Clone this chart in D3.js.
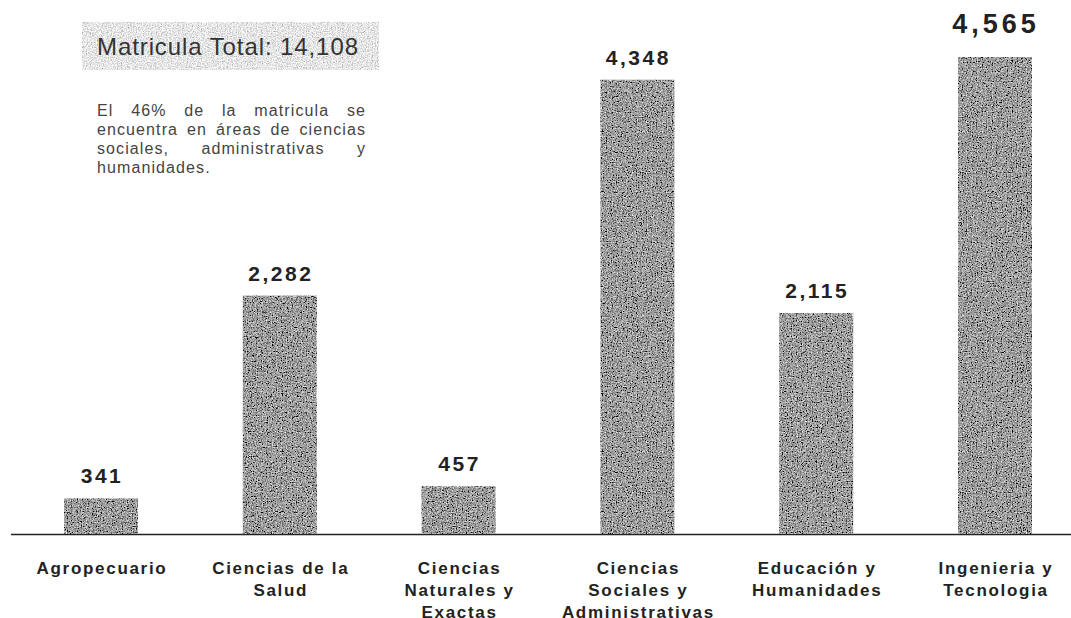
<!DOCTYPE html>
<html>
<head>
<meta charset="utf-8">
<script src="https://cdn.jsdelivr.net/npm/d3@7/dist/d3.min.js"></script>
<style>
  html, body { margin: 0; padding: 0; background: #fff; }
  svg { display: block; }
</style>
</head>
<body>
<svg id="chart" width="1071" height="618"></svg>
<script>
const categories = [
  ["Agropecuario"],
  ["Ciencias de la", "Salud"],
  ["Ciencias", "Naturales y", "Exactas"],
  ["Ciencias", "Sociales y", "Administrativas"],
  ["Educación y", "Humanidades"],
  ["Ingenieria y", "Tecnologia"]
];
const categoryKeys = ["Agropecuario", "Ciencias de la Salud", "Ciencias Naturales y Exactas",
  "Ciencias Sociales y Administrativas", "Educación y Humanidades", "Ingenieria y Tecnologia"];
const values = [341, 2282, 457, 4348, 2115, 4565];
const valueLabels = ["341", "2,282", "457", "4,348", "2,115", "4,565"];
const totalLabel = "Matricula Total: 14,108";
const noteLines = [
  ["El", "46%", "de", "la", "matricula", "se"],
  ["encuentra", "en", "áreas", "de", "ciencias"],
  ["sociales,", "administrativas", "y"],
  ["humanidades."]
];

const svg = d3.select("#chart");
const W = 1071, H = 618;
const baseY = 534, topY = 57;

const defs = svg.append("defs");
function noiseFilter(id, slope, intercept) {
  const f = defs.append("filter").attr("id", id)
    .attr("x", 0).attr("y", 0).attr("width", 1).attr("height", 1);
  f.append("feTurbulence").attr("type", "fractalNoise")
    .attr("baseFrequency", 0.8).attr("numOctaves", 2).attr("seed", 3).attr("result", "n");
  f.append("feColorMatrix").attr("in", "n").attr("type", "matrix")
    .attr("values", "0.33 0.33 0.33 0 0  0.33 0.33 0.33 0 0  0.33 0.33 0.33 0 0  0 0 0 0 1")
    .attr("result", "g");
  const ct = f.append("feComponentTransfer").attr("in", "g").attr("result", "c");
  ["feFuncR", "feFuncG", "feFuncB"].forEach(t =>
    ct.append(t).attr("type", "linear").attr("slope", slope).attr("intercept", intercept));
  f.append("feComposite").attr("in", "c").attr("in2", "SourceGraphic").attr("operator", "in");
}
noiseFilter("barNoise", 2.6, -0.95);
noiseFilter("boxNoise", 2.0, -0.2);

const x = d3.scaleBand()
  .domain(categoryKeys)
  .range([11.6, 1084.4])
  .paddingInner(0.586)
  .paddingOuter(0.293);

const y = d3.scaleLinear().domain([0, 4565]).range([baseY, topY]);

// baseline
svg.append("line")
  .attr("x1", 11).attr("x2", W).attr("y1", baseY + 0.5).attr("y2", baseY + 0.5)
  .attr("stroke", "#222").attr("stroke-width", 1.3);

// bars
svg.append("g").selectAll("rect").data(values).join("rect")
  .attr("x", (d, i) => x(categoryKeys[i]))
  .attr("width", x.bandwidth())
  .attr("y", d => y(d))
  .attr("height", d => baseY - y(d))
  .attr("fill", "#666")
  .attr("filter", "url(#barNoise)");

// value labels
svg.append("g").selectAll("text").data(values).join("text")
  .attr("x", (d, i) => x(categoryKeys[i]) + x.bandwidth() / 2 + 1)
  .attr("y", (d, i) => y(d) - (i === 5 ? 24 : 15))
  .attr("text-anchor", "middle")
  .attr("font-family", "Liberation Sans, Arial, sans-serif")
  .attr("font-weight", "bold")
  .attr("font-size", (d, i) => i === 5 ? 27 : 21)
  .attr("letter-spacing", (d, i) => i === 5 ? 4 : 2.5)
  .attr("fill", "#222")
  .text((d, i) => valueLabels[i]);

// category labels
const cat = svg.append("g").selectAll("text").data(categories).join("text")
  .attr("text-anchor", "middle")
  .attr("font-family", "Liberation Sans, Arial, sans-serif")
  .attr("font-weight", "bold")
  .attr("font-size", 17)
  .attr("letter-spacing", 1.7)
  .attr("fill", "#222");
cat.each(function(lines, i) {
  const cx = x(categoryKeys[i]) + x.bandwidth() / 2 + 1;
  d3.select(this).selectAll("tspan").data(lines).join("tspan")
    .attr("x", cx)
    .attr("y", (d, j) => 574 + j * 22)
    .text(d => d);
});

// total box
svg.append("rect")
  .attr("x", 82).attr("y", 22).attr("width", 297).attr("height", 48)
  .attr("fill", "#bbb").attr("filter", "url(#boxNoise)");
svg.append("text")
  .attr("x", 97).attr("y", 55)
  .attr("font-family", "Liberation Sans, Arial, sans-serif")
  .attr("font-size", 24)
  .attr("textLength", 261)
  .attr("lengthAdjust", "spacing")
  .attr("fill", "#333")
  .text(totalLabel);

// note paragraph (justified)
const noteLeft = 97, noteRight = 366, noteTop = 116, noteStep = 19;
const note = svg.append("g")
  .attr("font-family", "Liberation Sans, Arial, sans-serif")
  .attr("font-size", 16)
  .attr("letter-spacing", 1.1)
  .attr("fill", "#444");
noteLines.forEach((words, li) => {
  const yy = noteTop + li * noteStep;
  const nodes = words.map(w => note.append("text").attr("y", yy).text(w));
  const widths = nodes.map(n => n.node().getComputedTextLength());
  const total = d3.sum(widths);
  const last = li === noteLines.length - 1;
  const gap = (last || words.length < 2) ? 5 : (noteRight - noteLeft - total) / (words.length - 1);
  let cx = noteLeft;
  nodes.forEach((n, k) => { n.attr("x", cx); cx += widths[k] + gap; });
});
</script>
</body>
</html>
